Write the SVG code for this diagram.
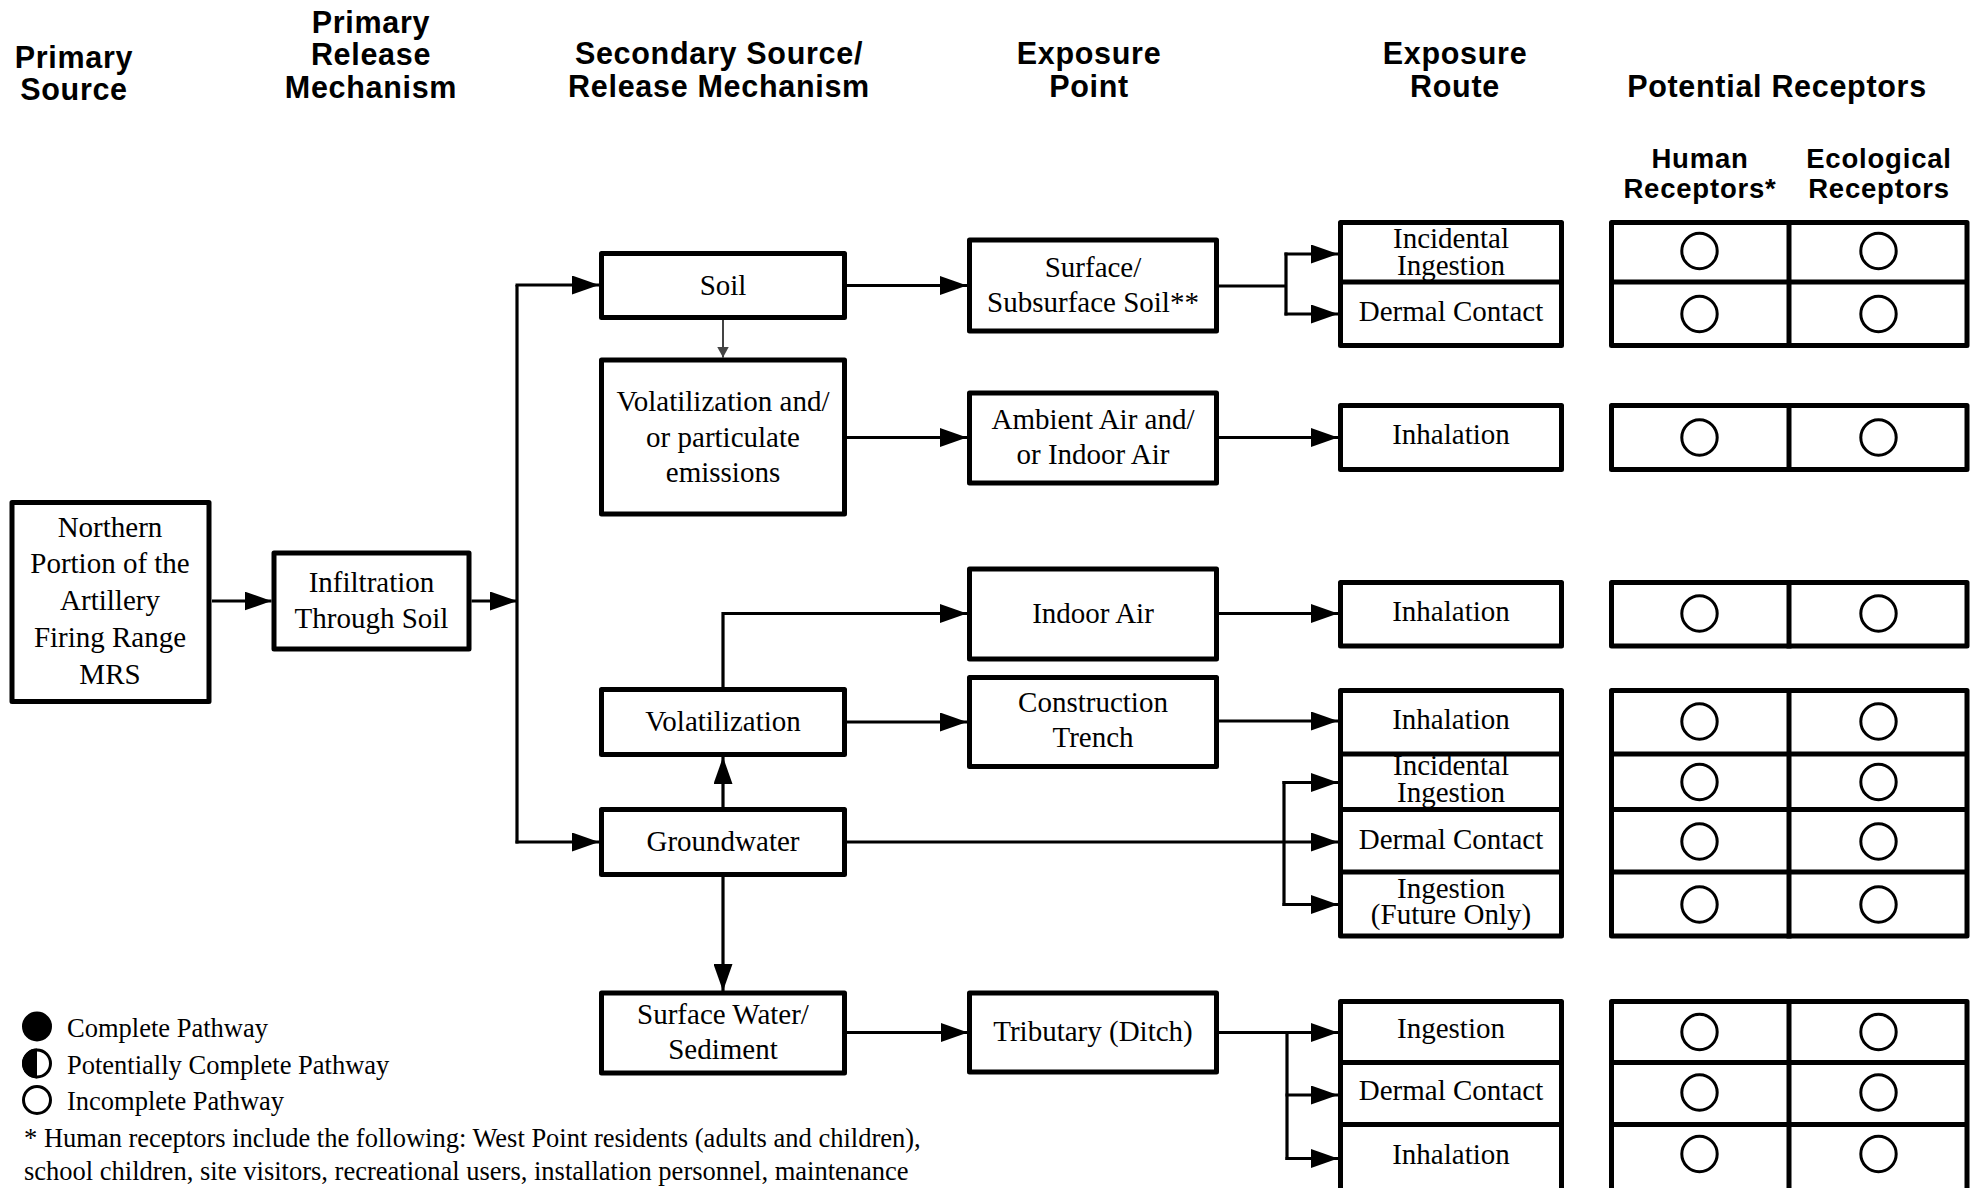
<svg xmlns="http://www.w3.org/2000/svg" width="1971" height="1188" viewBox="0 0 1971 1188">
  <style>
    .hd { font-family: "Liberation Sans", Arial, sans-serif; font-weight: bold; font-size: 30.5px; letter-spacing: 0.7px; text-anchor: middle; fill: #000; }
    .sub { font-family: "Liberation Sans", Arial, sans-serif; font-weight: bold; font-size: 27.5px; letter-spacing: 0.8px; text-anchor: middle; fill: #000; }
    .t { font-family: "Liberation Serif", "Times New Roman", serif; font-size: 29px; text-anchor: middle; fill: #000; }
    .lg { font-family: "Liberation Serif", "Times New Roman", serif; font-size: 26.5px; fill: #000; }
    .box { fill: #fff; stroke: #000; stroke-width: 5; stroke-linejoin: round; }
    .div { stroke: #000; stroke-width: 5; fill: none; }
    .ring { fill: #fff; stroke: #000; stroke-width: 3; }
    .wire { fill: none; stroke: #000; stroke-width: 3.2; }
    .arr { marker-end: url(#head); }
    .thin { fill: none; stroke: #444; stroke-width: 2; marker-end: url(#headSmall); }
  </style>
  <defs>
    <marker id="head" markerUnits="userSpaceOnUse" markerWidth="27" markerHeight="19" refX="27" refY="9.5" orient="auto">
      <path d="M0,0 L27,9.5 L0,19 Z" fill="#000"/>
    </marker>
    <marker id="headSmall" markerUnits="userSpaceOnUse" markerWidth="12" markerHeight="12" refX="11" refY="6" orient="auto">
      <path d="M0,0 L11,6 L0,12 Z" fill="#444"/>
    </marker>
  </defs>

  <rect width="1971" height="1188" fill="#fff"/>

  <!-- column headings -->
  <g id="headings">
    <text class="hd" x="74" y="68">Primary</text>
    <text class="hd" x="74" y="99.5">Source</text>
    <text class="hd" x="371" y="33">Primary</text>
    <text class="hd" x="371" y="65">Release</text>
    <text class="hd" x="371" y="98">Mechanism</text>
    <text class="hd" x="719" y="64">Secondary Source/</text>
    <text class="hd" x="719" y="97">Release Mechanism</text>
    <text class="hd" x="1089" y="64">Exposure</text>
    <text class="hd" x="1089" y="97">Point</text>
    <text class="hd" x="1455" y="64">Exposure</text>
    <text class="hd" x="1455" y="97">Route</text>
    <text class="hd" x="1777" y="97">Potential Receptors</text>
    <text class="sub" x="1700" y="168">Human</text>
    <text class="sub" x="1700" y="198">Receptors*</text>
    <text class="sub" x="1879" y="168">Ecological</text>
    <text class="sub" x="1879" y="198">Receptors</text>
  </g>

  <!-- connectors -->
  <g id="connectors">
    <line class="wire arr" x1="212" y1="601" x2="271.5" y2="601"/>
    <line class="wire arr" x1="471.5" y1="601" x2="517" y2="601"/>
    <line class="wire" x1="517" y1="285" x2="517" y2="843.5"/>
    <line class="wire arr" x1="515.5" y1="285" x2="599" y2="285"/>
    <line class="wire arr" x1="515.5" y1="842" x2="599" y2="842"/>
    <line class="thin" x1="723" y1="320" x2="723" y2="357.5"/>
    <line class="wire arr" x1="846" y1="285.5" x2="967" y2="285.5"/>
    <line class="wire arr" x1="846" y1="437.5" x2="967" y2="437.5"/>
    <path class="wire" d="M1219,286 H1286 M1286,252.5 V315.5"/>
    <line class="wire arr" x1="1284.5" y1="254" x2="1338" y2="254"/>
    <line class="wire arr" x1="1284.5" y1="314" x2="1338" y2="314"/>
    <line class="wire arr" x1="1219" y1="437.5" x2="1338" y2="437.5"/>
    <path class="wire arr" d="M723,687 V613.5 H967"/>
    <line class="wire arr" x1="1219" y1="613.5" x2="1338" y2="613.5"/>
    <line class="wire arr" x1="846" y1="722" x2="967" y2="722"/>
    <line class="wire arr" x1="1219" y1="721" x2="1338" y2="721"/>
    <line class="wire arr" x1="723" y1="807" x2="723" y2="757"/>
    <line class="wire arr" x1="846" y1="842" x2="1338" y2="842"/>
    <path class="wire" d="M1284,781 V906"/>
    <line class="wire arr" x1="1282.5" y1="782.5" x2="1338" y2="782.5"/>
    <line class="wire arr" x1="1282.5" y1="904.5" x2="1338" y2="904.5"/>
    <line class="wire arr" x1="723" y1="877" x2="723" y2="991"/>
    <line class="wire arr" x1="846" y1="1032.5" x2="968" y2="1032.5"/>
    <line class="wire arr" x1="1218" y1="1032.5" x2="1338" y2="1032.5"/>
    <path class="wire" d="M1287,1031 V1160"/>
    <line class="wire arr" x1="1285.5" y1="1095" x2="1338" y2="1095"/>
    <line class="wire arr" x1="1285.5" y1="1158.5" x2="1338" y2="1158.5"/>
  </g>

  <!-- source and release nodes -->
  <g id="northern-portion">
    <rect class="box" x="12" y="502.5" width="197" height="199"/>
    <text class="t" x="110" y="537">Northern</text>
    <text class="t" x="110" y="573">Portion of the</text>
    <text class="t" x="110" y="609.5">Artillery</text>
    <text class="t" x="110" y="647">Firing Range</text>
    <text class="t" x="110" y="683.5">MRS</text>
  </g>
  <g id="infiltration">
    <rect class="box" x="274" y="553" width="195" height="96"/>
    <text class="t" x="371.5" y="592">Infiltration</text>
    <text class="t" x="371.5" y="628">Through Soil</text>
  </g>
  <g id="soil">
    <rect class="box" x="601.5" y="253.5" width="243" height="64"/>
    <text class="t" x="723" y="294.5">Soil</text>
  </g>
  <g id="volatilization-particulate">
    <rect class="box" x="601.5" y="360" width="243" height="154"/>
    <text class="t" x="723" y="411">Volatilization and/</text>
    <text class="t" x="723" y="447">or particulate</text>
    <text class="t" x="723" y="482">emissions</text>
  </g>
  <g id="volatilization">
    <rect class="box" x="601.5" y="689.5" width="243" height="65"/>
    <text class="t" x="723" y="730.5">Volatilization</text>
  </g>
  <g id="groundwater">
    <rect class="box" x="601.5" y="809.5" width="243" height="65"/>
    <text class="t" x="723" y="850.5">Groundwater</text>
  </g>
  <g id="surface-water">
    <rect class="box" x="601.5" y="993" width="243" height="80"/>
    <text class="t" x="723" y="1023.5">Surface Water/</text>
    <text class="t" x="723" y="1058.5">Sediment</text>
  </g>

  <!-- exposure points -->
  <g id="surface-soil">
    <rect class="box" x="969.5" y="240" width="247" height="91"/>
    <text class="t" x="1093" y="277">Surface/</text>
    <text class="t" x="1093" y="311.5">Subsurface Soil**</text>
  </g>
  <g id="ambient-air">
    <rect class="box" x="969.5" y="393" width="247" height="90"/>
    <text class="t" x="1093" y="428.5">Ambient Air and/</text>
    <text class="t" x="1093" y="463.5">or Indoor Air</text>
  </g>
  <g id="indoor-air">
    <rect class="box" x="969.5" y="569" width="247" height="90"/>
    <text class="t" x="1093" y="623">Indoor Air</text>
  </g>
  <g id="construction-trench">
    <rect class="box" x="969.5" y="677.5" width="247" height="89"/>
    <text class="t" x="1093" y="712">Construction</text>
    <text class="t" x="1093" y="747">Trench</text>
  </g>
  <g id="tributary">
    <rect class="box" x="969.5" y="993" width="247" height="79"/>
    <text class="t" x="1093" y="1040.5">Tributary (Ditch)</text>
  </g>

  <!-- exposure routes -->
  <g id="route-soil">
    <rect class="box" x="1340.5" y="222.5" width="221" height="123"/>
    <line class="div" x1="1338" y1="282" x2="1564" y2="282"/>
    <text class="t" x="1451" y="248">Incidental</text>
    <text class="t" x="1451" y="274.5">Ingestion</text>
    <text class="t" x="1451" y="321">Dermal Contact</text>
  </g>
  <g id="route-ambient-air">
    <rect class="box" x="1340.5" y="405.5" width="221" height="64"/>
    <text class="t" x="1451" y="443.5">Inhalation</text>
  </g>
  <g id="route-indoor-air">
    <rect class="box" x="1340.5" y="582.5" width="221" height="63.5"/>
    <text class="t" x="1451" y="620.5">Inhalation</text>
  </g>
  <g id="route-groundwater">
    <rect class="box" x="1340.5" y="690.5" width="221" height="245.5"/>
    <line class="div" x1="1338" y1="754" x2="1564" y2="754"/>
    <line class="div" x1="1338" y1="809.5" x2="1564" y2="809.5"/>
    <line class="div" x1="1338" y1="872" x2="1564" y2="872"/>
    <text class="t" x="1451" y="728.5">Inhalation</text>
    <text class="t" x="1451" y="775">Incidental</text>
    <text class="t" x="1451" y="801.5">Ingestion</text>
    <text class="t" x="1451" y="848.5">Dermal Contact</text>
    <text class="t" x="1451" y="897.5">Ingestion</text>
    <text class="t" x="1451" y="923.5">(Future Only)</text>
  </g>
  <g id="route-tributary">
    <rect class="box" x="1340.5" y="1001.5" width="221" height="200"/>
    <line class="div" x1="1338" y1="1062.5" x2="1564" y2="1062.5"/>
    <line class="div" x1="1338" y1="1124.5" x2="1564" y2="1124.5"/>
    <text class="t" x="1451" y="1037.5">Ingestion</text>
    <text class="t" x="1451" y="1100">Dermal Contact</text>
    <text class="t" x="1451" y="1163.5">Inhalation</text>
  </g>

  <!-- receptor tables -->
  <g id="receptors-soil">
    <rect class="box" x="1611.5" y="222.5" width="355.5" height="123"/>
    <line class="div" x1="1609" y1="282" x2="1969" y2="282"/>
    <line class="div" x1="1789" y1="220" x2="1789" y2="348"/>
    <circle class="ring" cx="1699.5" cy="251" r="17.7"/>
    <circle class="ring" cx="1878.5" cy="251" r="17.7"/>
    <circle class="ring" cx="1699.5" cy="314" r="17.7"/>
    <circle class="ring" cx="1878.5" cy="314" r="17.7"/>
  </g>
  <g id="receptors-ambient-air">
    <rect class="box" x="1611.5" y="405.5" width="355.5" height="64"/>
    <line class="div" x1="1789" y1="403" x2="1789" y2="472"/>
    <circle class="ring" cx="1699.5" cy="437.5" r="17.7"/>
    <circle class="ring" cx="1878.5" cy="437.5" r="17.7"/>
  </g>
  <g id="receptors-indoor-air">
    <rect class="box" x="1611.5" y="582.5" width="355.5" height="63.5"/>
    <line class="div" x1="1789" y1="580" x2="1789" y2="648.5"/>
    <circle class="ring" cx="1699.5" cy="613.5" r="17.7"/>
    <circle class="ring" cx="1878.5" cy="613.5" r="17.7"/>
  </g>
  <g id="receptors-groundwater">
    <rect class="box" x="1611.5" y="690.5" width="355.5" height="245.5"/>
    <line class="div" x1="1609" y1="754" x2="1969" y2="754"/>
    <line class="div" x1="1609" y1="809.5" x2="1969" y2="809.5"/>
    <line class="div" x1="1609" y1="872" x2="1969" y2="872"/>
    <line class="div" x1="1789" y1="688" x2="1789" y2="938.5"/>
    <circle class="ring" cx="1699.5" cy="721.5" r="17.7"/>
    <circle class="ring" cx="1878.5" cy="721.5" r="17.7"/>
    <circle class="ring" cx="1699.5" cy="782" r="17.7"/>
    <circle class="ring" cx="1878.5" cy="782" r="17.7"/>
    <circle class="ring" cx="1699.5" cy="841.5" r="17.7"/>
    <circle class="ring" cx="1878.5" cy="841.5" r="17.7"/>
    <circle class="ring" cx="1699.5" cy="904.5" r="17.7"/>
    <circle class="ring" cx="1878.5" cy="904.5" r="17.7"/>
  </g>
  <g id="receptors-tributary">
    <rect class="box" x="1611.5" y="1001.5" width="355.5" height="200"/>
    <line class="div" x1="1609" y1="1062.5" x2="1969" y2="1062.5"/>
    <line class="div" x1="1609" y1="1124.5" x2="1969" y2="1124.5"/>
    <line class="div" x1="1789" y1="999" x2="1789" y2="1200"/>
    <circle class="ring" cx="1699.5" cy="1032" r="17.7"/>
    <circle class="ring" cx="1878.5" cy="1032" r="17.7"/>
    <circle class="ring" cx="1699.5" cy="1092.5" r="17.7"/>
    <circle class="ring" cx="1878.5" cy="1092.5" r="17.7"/>
    <circle class="ring" cx="1699.5" cy="1154" r="17.7"/>
    <circle class="ring" cx="1878.5" cy="1154" r="17.7"/>
  </g>

  <!-- legend and footnote -->
  <g id="legend">
    <circle cx="37" cy="1026.5" r="15" fill="#000"/>
    <text class="lg" x="67" y="1037">Complete Pathway</text>
    <circle class="ring" cx="37" cy="1063.5" r="13.5"/>
    <path d="M37,1048.5 A15,15 0 0 0 37,1078.5 Z" fill="#000"/>
    <text class="lg" x="67" y="1073.5">Potentially Complete Pathway</text>
    <circle class="ring" cx="37" cy="1100" r="13.5"/>
    <text class="lg" x="67" y="1110">Incomplete Pathway</text>
    <text class="lg" x="24" y="1146.5">* Human receptors include the following: West Point residents (adults and children),</text>
    <text class="lg" x="24" y="1180">school children, site visitors, recreational users, installation personnel, maintenance</text>
  </g>
</svg>
